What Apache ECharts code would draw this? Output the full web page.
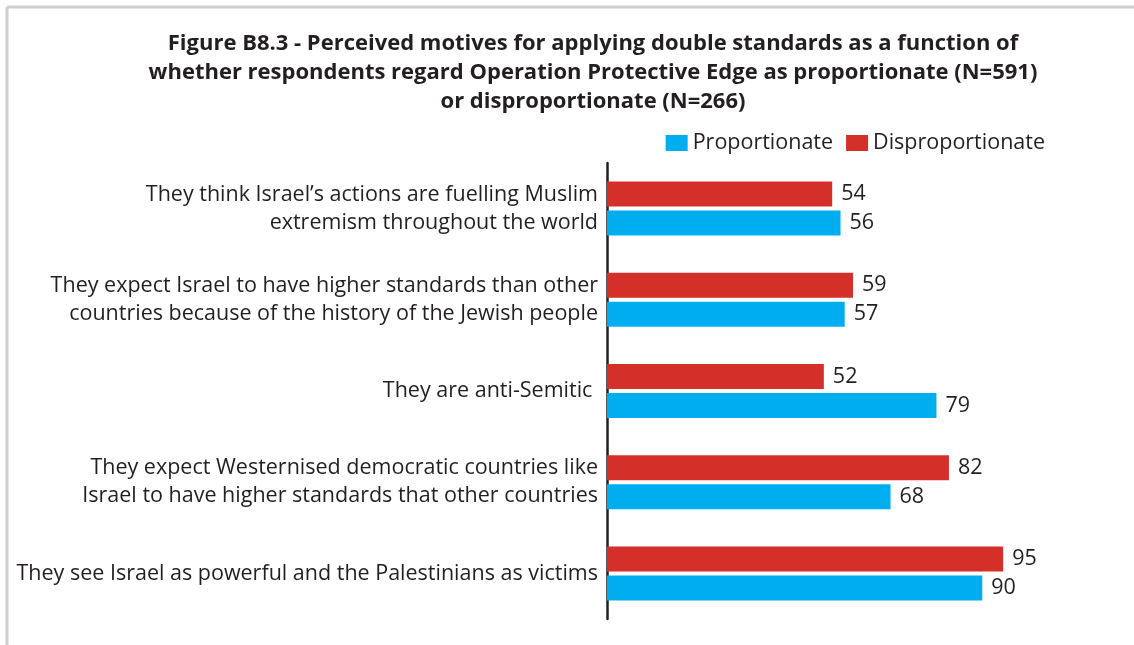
<!DOCTYPE html>
<html><head><meta charset="utf-8">
<script src="https://cdn.jsdelivr.net/npm/echarts@6/dist/echarts.min.js"></script>
<style>html,body{margin:0;padding:0;background:#fff}#c{width:1134px;height:645px}</style>
</head><body><div id="c"></div>
<script>
const categories = [
  "They see Israel as powerful and the Palestinians as victims",
  "They expect Westernised democratic countries like\nIsrael to have higher standards that other countries",
  "They are anti-Semitic ",
  "They expect Israel to have higher standards than other\ncountries because of the history of the Jewish people",
  "They think Israel\u2019s actions are fuelling Muslim\nextremism throughout the world"
];
const proportionate = [90, 68, 79, 57, 56];
const disproportionate = [95, 82, 52, 59, 54];
const seriesNames = ["Proportionate", "Disproportionate"];
const titleText = "Figure B8.3 - Perceived motives for applying double standards as a function of\nwhether respondents regard Operation Protective Edge as proportionate (N=591)\nor disproportionate (N=266)";

const FONT = "Open Sans";
const chart = echarts.init(document.getElementById('c'));
chart.setOption({
  animation: false,
  textStyle: {fontFamily: FONT},
  title: {
    text: titleText,
    left: 588, top: 24, textAlign: 'center',
    textStyle: {fontFamily: FONT, fontWeight: 'bold', fontSize: 22, color: '#231f20', lineHeight: 29}
  },
  legend: {
    data: seriesNames,
    right: 84, top: 127,
    itemWidth: 22, itemHeight: 16, itemGap: 13,
    icon: 'rect',
    textStyle: {fontFamily: FONT, fontSize: 21.5, color: '#231f20'}
  },
  graphic: [
    {type: 'line', shape: {x1: 7, y1: 7, x2: 1134, y2: 7}, style: {stroke: '#d0d0d0', lineWidth: 3}},
    {type: 'line', shape: {x1: 7, y1: 7, x2: 7, y2: 645}, style: {stroke: '#d0d0d0', lineWidth: 3}}
  ],
  grid: {left: 607, right: 110, top: 163, bottom: 26, containLabel: false},
  xAxis: {type: 'value', min: 0, max: 100, show: false},
  yAxis: {
    type: 'category', data: categories,
    axisLine: {lineStyle: {color: '#231f20', width: 2.5}},
    axisTick: {show: false},
    axisLabel: {fontFamily: FONT, fontSize: 21.5, color: '#231f20', lineHeight: 28, margin: 9, align: 'right'}
  },
  series: [
    {name: seriesNames[1], type: 'bar', data: disproportionate, barWidth: 25, barGap: '16%',
     itemStyle: {color: '#d52f29'},
     label: {show: true, position: 'right', distance: 9, fontFamily: FONT, fontSize: 21.5, color: '#231f20'}},
    {name: seriesNames[0], type: 'bar', data: proportionate, barWidth: 25,
     itemStyle: {color: '#00aeef'},
     label: {show: true, position: 'right', distance: 9, fontFamily: FONT, fontSize: 21.5, color: '#231f20'}}
  ]
});
</script></body></html>
